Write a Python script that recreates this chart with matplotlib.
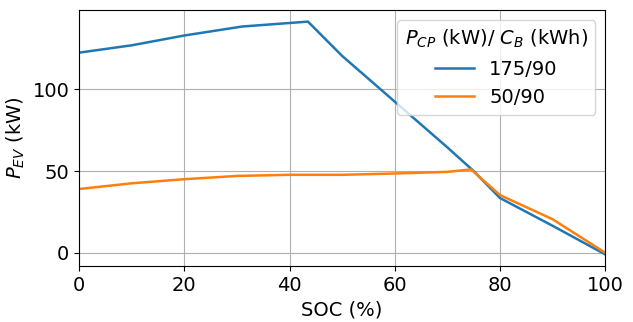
import numpy as np
import matplotlib.pyplot as plt

# SOC (%) and EV power (kW)
soc_175 = [0, 10, 20, 31, 43.5, 50, 60, 70, 75, 80, 90, 100]
p_175 = [122.5, 127, 133, 138.5, 141.5, 120.5, 92.5, 64.5, 50, 33.5, 16.5, -1]
soc_50 = [0, 10, 20, 30, 40, 50, 60, 70, 74.5, 80, 90, 100]
p_50 = [39, 42.5, 45, 47, 47.7, 47.7, 48.5, 49.5, 51, 35.3, 20.5, 0]
labels = ['175/90', '50/90']

plt.rcParams['font.size'] = 14
fig, ax = plt.subplots(figsize=(6.33, 3.22), dpi=100)
ax.plot(soc_175, p_175, label=labels[0], lw=1.8)
ax.plot(soc_50, p_50, label=labels[1], lw=1.8)
ax.set_xlim(0, 100)
ax.set_xlabel('SOC (%)')
ax.set_ylabel('$P_{EV}$ (kW)')
ax.set_yticks([0, 50, 100])
ax.grid(True)
ax.legend(title='$P_{CP}$ (kW)/ $C_B$ (kWh)', loc='upper right')
fig.subplots_adjust(left=0.125, right=0.956, top=0.969, bottom=0.174)
plt.savefig('out.png')
